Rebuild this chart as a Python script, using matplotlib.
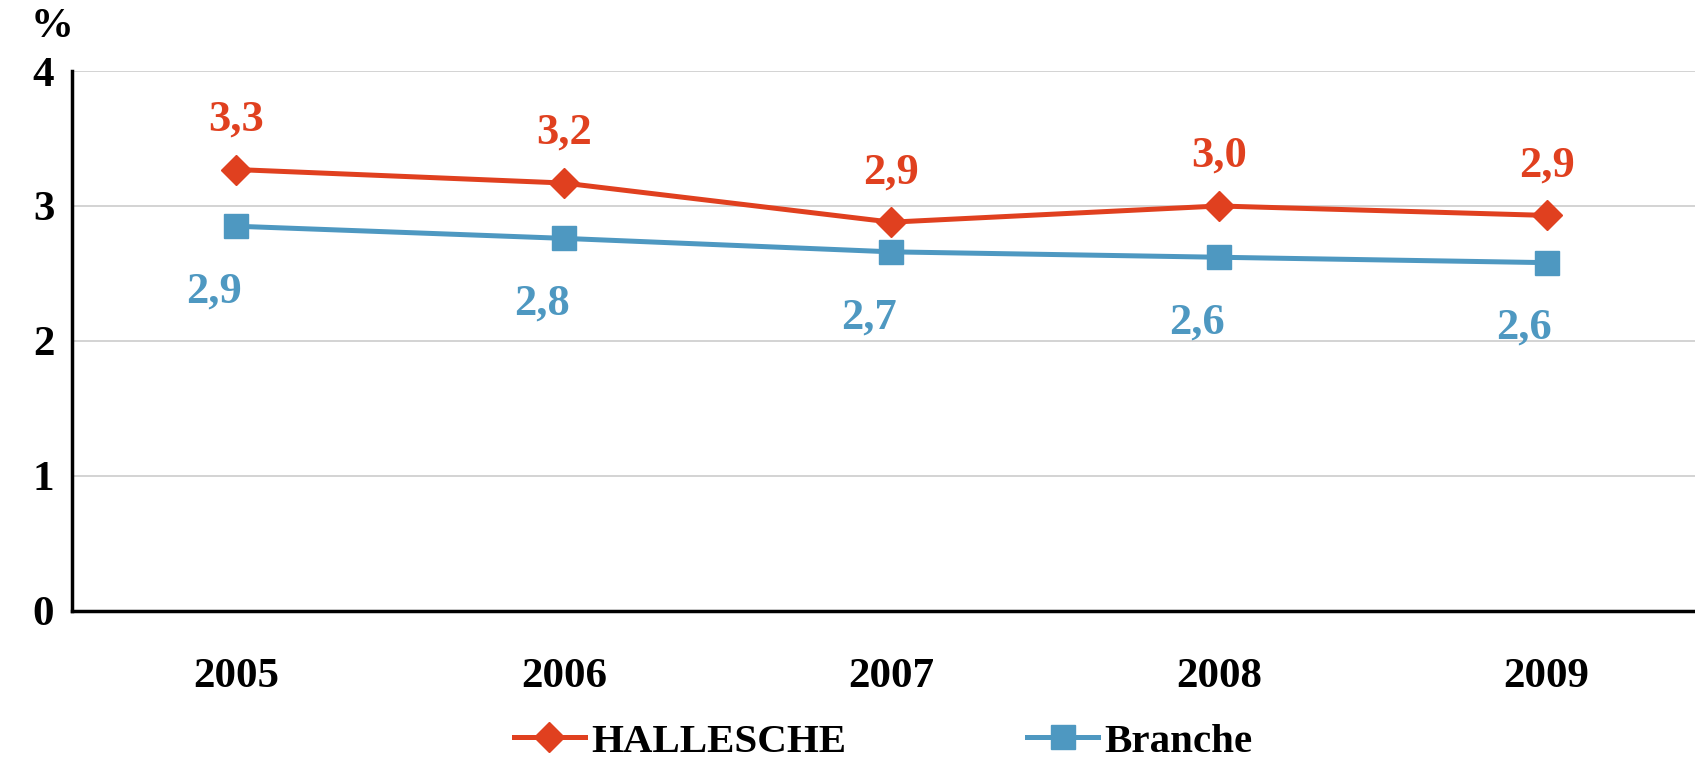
import matplotlib
matplotlib.use("Agg")
import matplotlib.pyplot as plt
from matplotlib.lines import Line2D

years = ["2005", "2006", "2007", "2008", "2009"]
hallesche = [3.27, 3.17, 2.88, 3.00, 2.93]
branche = [2.85, 2.76, 2.66, 2.62, 2.58]
hallesche_labels = ["3,3", "3,2", "2,9", "3,0", "2,9"]
branche_labels = ["2,9", "2,8", "2,7", "2,6", "2,6"]
yticks = [0, 1, 2, 3, 4]

RED = "#E0401F"
BLUE = "#4E98C1"
FONT = "Liberation Serif"
FS_TICK = 31
FS_LAB = 32
FS_LEG = 29.5

plt.rcParams["font.family"] = [FONT, "DejaVu Serif"]
plt.rcParams["font.weight"] = "bold"

fig = plt.figure(figsize=(16.95, 7.62), dpi=100)
ax = fig.add_axes([0.0427, 0.1984, 1 - 0.0427, 0.9068 - 0.1984])

x = list(range(len(years)))
ax.plot(x, hallesche, color=RED, lw=3.6, marker="D", ms=15, mec=RED, mfc=RED, zorder=4)
ax.plot(x, branche, color=BLUE, lw=3.6, marker="s", ms=17, mec=BLUE, mfc=BLUE, zorder=3)

for xi, v, lab in zip(x, hallesche, hallesche_labels):
    ax.annotate(lab, (xi, v), xytext=(0, 36), textcoords="offset points",
                ha="center", va="center", color=RED, fontsize=FS_LAB, fontweight="bold")
for xi, v, lab in zip(x, branche, branche_labels):
    ax.annotate(lab, (xi, v), xytext=(-16, -47), textcoords="offset points",
                ha="center", va="center", color=BLUE, fontsize=FS_LAB, fontweight="bold")

ax.set_xlim(-0.5, 4.453)
ax.set_ylim(0, 4)
ax.set_yticks(yticks)
ax.set_yticklabels([str(t) for t in yticks], fontsize=FS_TICK, fontweight="bold")
ax.set_xticks(x)
ax.set_xticklabels(years, fontsize=FS_TICK, fontweight="bold")
ax.tick_params(axis="both", length=0)
ax.tick_params(axis="y", pad=13)
ax.tick_params(axis="x", pad=34)

ax.grid(axis="y", color="#D0D0D0", lw=1.3)
ax.set_axisbelow(True)
for s in ["top", "right"]:
    ax.spines[s].set_visible(False)
ax.spines["left"].set_linewidth(2.5)
ax.spines["bottom"].set_linewidth(2.5)
ax.spines["left"].set_color("black")
ax.spines["bottom"].set_color("black")

fig.text(0.0307, 0.965, "%", ha="center", va="center", fontsize=FS_TICK, fontweight="bold")

handles = [
    Line2D([], [], color=RED, lw=3.6, marker="D", ms=15, mec=RED, mfc=RED),
    Line2D([], [], color=BLUE, lw=3.6, marker="s", ms=17, mec=BLUE, mfc=BLUE),
]
fig.legend(handles, ["HALLESCHE", "Branche"], loc="center", bbox_to_anchor=(0.521, 1 - 742 / 762),
           ncol=2, frameon=False, prop={"family": FONT, "weight": "bold", "size": FS_LEG},
           handlelength=1.75, handletextpad=0.15, columnspacing=4.4, borderpad=0.2)

fig.savefig("out.png", dpi=100)
